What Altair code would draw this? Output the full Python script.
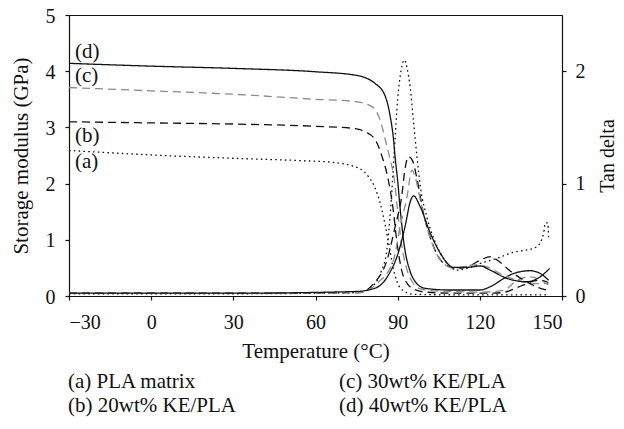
import altair as alt
import pandas as pd

# ---------------- data ----------------
series = ["a", "b", "c", "d"]
series_colors = ["#111111", "#111111", "#8a8a8a", "#111111"]
series_dash = [[1.6, 3.2], [8, 5], [8, 5], [1, 0]]

# Storage modulus (GPa) vs temperature (deg C)
T_store_a = [-30, 0, 30, 54, 66, 76, 79.4, 81.5, 83.8, 85.5, 86.7, 88, 89.8, 92.5, 96, 110, 130, 145]
E_store_a = [2.59, 2.51, 2.45, 2.41, 2.38, 2.27, 2.12, 1.95, 1.62, 1.25, 0.95, 0.58, 0.25, 0.08, 0.03, 0.02, 0.02, 0.02]

T_store_b = [-30, 0, 30, 60, 74.5, 78.2, 81.8, 84.3, 86.2, 88.3, 89.7, 91.6, 93.5, 95.2, 100, 110, 125, 130, 133.6, 137.2, 140, 142, 145]
E_store_b = [3.10, 3.08, 3.06, 3.02, 2.98, 2.92, 2.78, 2.48, 2.15, 1.56, 0.97, 0.43, 0.22, 0.14, 0.07, 0.05, 0.05, 0.08, 0.15, 0.22, 0.27, 0.28, 0.24]

T_store_c = [-30, 0, 30, 60, 74.5, 80.6, 83.6, 85.5, 87.3, 88.7, 89.9, 91.2, 93.2, 95.8, 98, 101, 110, 120, 125, 128.7, 133.6, 138.5, 143.3, 145]
E_store_c = [3.71, 3.65, 3.59, 3.50, 3.46, 3.37, 3.13, 2.78, 2.42, 2.10, 1.56, 1.00, 0.50, 0.22, 0.13, 0.10, 0.08, 0.07, 0.08, 0.10, 0.28, 0.34, 0.25, 0.20]

T_store_d = [-30, 0, 30, 60, 74.5, 81.8, 85.5, 87.3, 88.5, 89.1, 89.9, 90.9, 92.2, 94.6, 96.5, 99, 101, 109, 120, 123.8, 128.7, 132.3, 138.4, 142.1, 145.1]
E_store_d = [4.14, 4.09, 4.05, 3.99, 3.93, 3.78, 3.55, 3.19, 2.78, 2.45, 2.10, 1.56, 0.97, 0.43, 0.25, 0.15, 0.13, 0.107, 0.107, 0.165, 0.31, 0.40, 0.45, 0.40, 0.28]

# Tan delta vs temperature (deg C)
T_tan_a = [-30, 30, 76, 80, 84, 86, 87.5, 88.8, 90, 91.2, 92.5, 93.5, 94.6, 95.8, 97, 98.3, 100.7, 104.4, 108, 111.7, 115.3, 120.2, 126.3, 132.4, 137.2, 140.9, 143.3, 143.9, 144.8, 145.1]
D_tan_a = [0.02, 0.02, 0.03, 0.07, 0.22, 0.40, 0.80, 1.30, 1.75, 2.00, 2.10, 2.02, 1.85, 1.55, 1.25, 0.97, 0.70, 0.44, 0.29, 0.23, 0.246, 0.29, 0.335, 0.39, 0.41, 0.44, 0.56, 0.65, 0.65, 0.51]

T_tan_b = [-30, 30, 76, 81.2, 86.1, 89.1, 91.6, 92.5, 94, 95.5, 97, 99.4, 103.1, 106.8, 111.7, 116.5, 120.2, 124, 126.3, 131.2, 136.1, 142.1, 145]
D_tan_b = [0.025, 0.025, 0.03, 0.11, 0.32, 0.62, 0.91, 1.10, 1.24, 1.20, 1.05, 0.74, 0.44, 0.29, 0.246, 0.27, 0.32, 0.35, 0.32, 0.22, 0.14, 0.068, 0.05]

T_tan_c = [-30, 30, 76, 82.4, 88.5, 90.9, 93.4, 95.2, 96.5, 98.3, 101.3, 105.6, 110.4, 117.7, 122.6, 127.5, 133.6, 139.7, 145.1]
D_tan_c = [0.025, 0.025, 0.03, 0.11, 0.32, 0.62, 0.88, 1.12, 1.05, 0.85, 0.56, 0.32, 0.246, 0.276, 0.26, 0.20, 0.14, 0.11, 0.11]

T_tan_d = [-30, 30, 74.5, 81.8, 86.7, 90.3, 92.8, 94.6, 95.8, 98.3, 101.9, 105.6, 110.4, 115.3, 120.2, 123.8, 129.9, 137.2, 142, 145.5]
D_tan_d = [0.025, 0.025, 0.04, 0.07, 0.19, 0.39, 0.63, 0.84, 0.89, 0.79, 0.56, 0.38, 0.255, 0.255, 0.267, 0.23, 0.157, 0.127, 0.17, 0.246]

# In-plot curve labels (placed on the storage-modulus scale)
curve_labels = ["(d)", "(c)", "(b)", "(a)"]
curve_label_T = [-27.8, -27.8, -27.8, -27.8]
curve_label_E = [4.35, 3.92, 2.85, 2.38]

# Caption under the chart
captions = ["(a) PLA matrix", "(b) 20wt% KE/PLA", "(c) 30wt% KE/PLA", "(d) 40wt% KE/PLA"]

x_ticks = [-30, 0, 30, 60, 90, 120, 150]
y_left_ticks = [0, 1, 2, 3, 4, 5]
y_right_ticks = [0, 1, 2]

# ---------------- tables ----------------
store_T = [T_store_a, T_store_b, T_store_c, T_store_d]
store_E = [E_store_a, E_store_b, E_store_c, E_store_d]
tan_T = [T_tan_a, T_tan_b, T_tan_c, T_tan_d]
tan_D = [D_tan_a, D_tan_b, D_tan_c, D_tan_d]

rows = []
for s, ts, vs in zip(series, store_T, store_E):
    for i, (t, v) in enumerate(zip(ts, vs)):
        rows.append({"s": s, "T": t, "v": v, "o": i})
df_store = pd.DataFrame(rows)

rows = []
for s, ts, vs in zip(series, tan_T, tan_D):
    for i, (t, v) in enumerate(zip(ts, vs)):
        rows.append({"s": s, "T": t, "v": v, "o": i})
df_tan = pd.DataFrame(rows)

df_lab = pd.DataFrame({"lab": curve_labels, "T": curve_label_T, "v": curve_label_E})

FONT = "Liberation Serif"
W, H = 493, 281

x_enc = alt.X("T:Q",
              scale=alt.Scale(domain=[-30, 150], nice=False, zero=False),
              axis=alt.Axis(values=x_ticks, title="Temperature (°C)", format="d",
                            labelExpr="replace(datum.label, '-', '\u2212')",
                            labelPadding=12, titlePadding=8, grid=False))

color_enc = alt.Color("s:N", scale=alt.Scale(domain=series, range=series_colors), legend=None)
dash_enc = alt.StrokeDash("s:N", scale=alt.Scale(domain=series, range=series_dash), legend=None)

store_lines = alt.Chart(df_store).mark_line(interpolate="monotone", strokeWidth=1.3).encode(
    x=x_enc,
    y=alt.Y("v:Q", scale=alt.Scale(domain=[0, 5], nice=False),
            axis=alt.Axis(values=y_left_ticks, title="Storage modulus (GPa)", orient="left",
                          format="d", grid=False, labelPadding=10, titlePadding=14,
                          labelOffset=1)),
    color=color_enc,
    strokeDash=dash_enc,
    order="o:Q",
)

store_text = alt.Chart(df_lab).mark_text(align="left", baseline="middle", font=FONT,
                                         fontSize=21, color="#111111").encode(
    x=alt.X("T:Q"),
    y=alt.Y("v:Q"),
    text="lab:N",
)

left = alt.layer(store_lines, store_text)

tan_lines = alt.Chart(df_tan).mark_line(interpolate="monotone", strokeWidth=1.3).encode(
    x=alt.X("T:Q"),
    y=alt.Y("v:Q", scale=alt.Scale(domain=[0, 2.5], nice=False),
            axis=alt.Axis(values=y_right_ticks, title="Tan delta", orient="right",
                          format="d", grid=False, labelPadding=9, titlePadding=12,
                          titleAngle=270, titleBaseline="top", titleFontSize=20)),
    color=color_enc,
    strokeDash=dash_enc,
    order="o:Q",
)

cap_pos = [(-1, 367), (-1, 391), (270, 367), (270, 391)]
cap_layers = []
for txt, (px, py) in zip(captions, cap_pos):
    cap_layers.append(
        alt.Chart(pd.DataFrame({"t": [txt]})).mark_text(
            align="left", baseline="middle", font=FONT, fontSize=21, color="#111111"
        ).encode(x=alt.value(px), y=alt.value(py), text="t:N")
    )

chart = alt.layer(left, tan_lines, *cap_layers).resolve_scale(y="independent").properties(
    width=W, height=H,
    autosize=alt.AutoSizeParams(type="none"),
    padding={"left": 61, "top": 7, "right": 54, "bottom": 121},
).configure_view(stroke="#111111", strokeWidth=1).configure_axis(
    labelFont=FONT, titleFont=FONT, labelFontSize=20, titleFontSize=21,
    titleFontWeight="normal", labelColor="#111111", titleColor="#111111",
    domainColor="#111111", tickColor="#111111", tickSize=4, domainWidth=1.2, tickWidth=1.2,
)

chart.save("out.html", embed_options={"renderer": "svg", "actions": False})
